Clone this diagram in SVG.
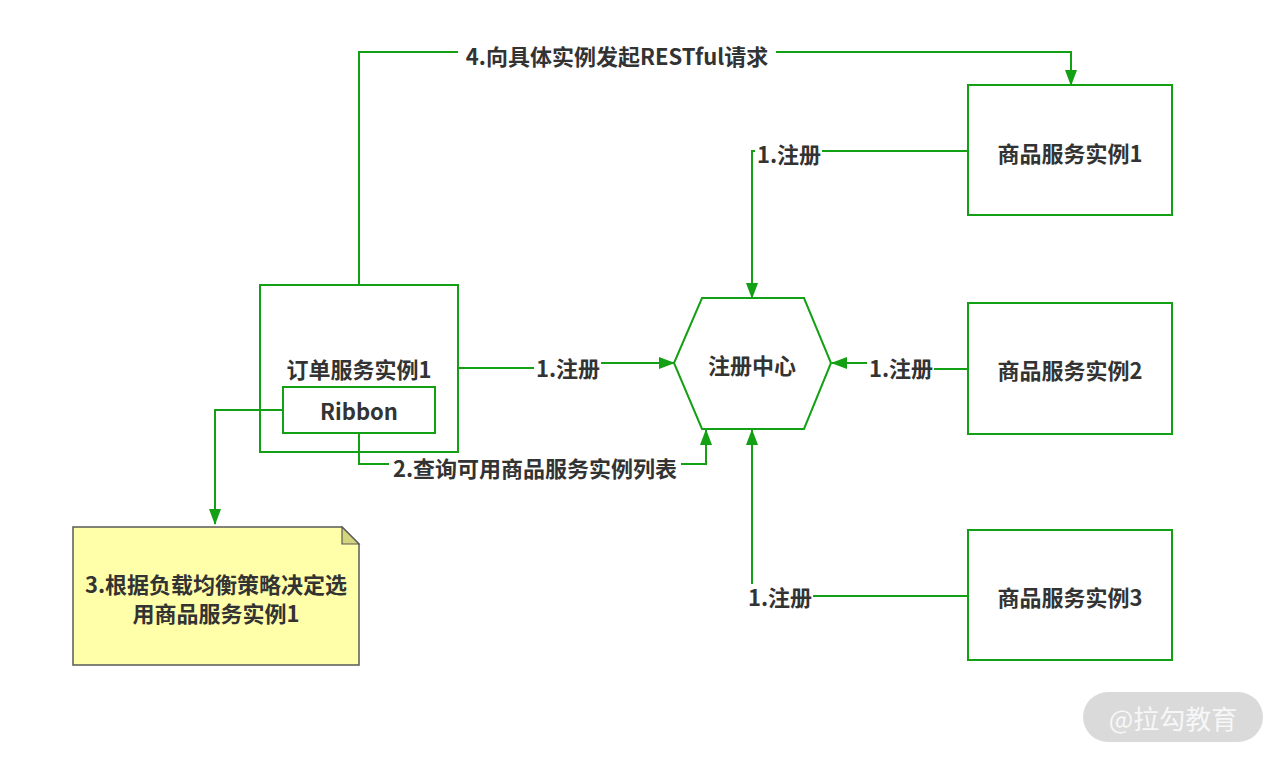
<svg xmlns="http://www.w3.org/2000/svg" width="1280" height="759" viewBox="0 0 1280 759">
<style>
.box{fill:#ffffff;stroke:#14a014;stroke-width:2}
.ln{fill:none;stroke:#14a014;stroke-width:2}
.t{font-family:"Noto Sans CJK SC","Liberation Sans",sans-serif;font-weight:bold;font-size:22px;fill:#333333;text-anchor:middle;dominant-baseline:central}
.lbg{fill:#ffffff}
</style>
<defs>
<marker id="arr" markerUnits="userSpaceOnUse" markerWidth="16" markerHeight="12" refX="15" refY="6" orient="auto">
<path d="M0,0 L16,6 L0,12 z" fill="#14a014"/>
</marker>
</defs>
<rect width="1280" height="759" fill="#ffffff"/>

<g id="order">
<rect class="box" x="260" y="285" width="198" height="167"/>
<text class="t" x="359" y="368">订单服务实例1</text>
</g>
<g id="ribbon">
<rect class="box" x="283" y="387" width="152" height="46"/>
<text class="t" x="359" y="410">Ribbon</text>
</g>
<g id="registry">
<polygon class="box" points="702,298 804,298 831,363 804,429 702,429 674,363"/>
<text class="t" x="752" y="364">注册中心</text>
</g>
<g id="product1">
<rect class="box" x="968" y="85" width="204" height="130"/>
<text class="t" x="1070" y="152">商品服务实例1</text>
</g>
<g id="product2">
<rect class="box" x="968" y="303" width="204" height="131"/>
<text class="t" x="1070" y="369">商品服务实例2</text>
</g>
<g id="product3">
<rect class="box" x="968" y="530" width="204" height="130"/>
<text class="t" x="1070" y="596">商品服务实例3</text>
</g>
<g id="note">
<path d="M73,527 L342,527 L359,544 L359,665 L73,665 z" fill="#ffffaa" stroke="#5a5a5a" stroke-width="1.5"/>
<path d="M342,527 L342,544 L359,544 z" fill="#d4d47e" stroke="#5a5a5a" stroke-width="1.2"/>
<text class="t" x="216" y="583">3.根据负载均衡策略决定选</text>
<text class="t" x="216" y="612">用商品服务实例1</text>
</g>

<g id="connectors">
<path class="ln" d="M359,285 V52 H1071 V85" marker-end="url(#arr)"/>
<rect class="lbg" x="458" y="40" width="318" height="26"/>
<text class="t" x="617" y="55">4.向具体实例发起RESTful请求</text>

<path class="ln" d="M968,151 H752 V298" marker-end="url(#arr)"/>
<rect class="lbg" x="755" y="141" width="67" height="24"/>
<text class="t" x="789" y="153">1.注册</text>

<path class="ln" d="M458,368 H565 V363 H674" marker-end="url(#arr)"/>
<rect class="lbg" x="534" y="355" width="67" height="24"/>
<text class="t" x="568" y="367">1.注册</text>

<path class="ln" d="M968,369 H900 V363 H832" marker-end="url(#arr)"/>
<rect class="lbg" x="867" y="355" width="67" height="24"/>
<text class="t" x="901" y="367">1.注册</text>

<path class="ln" d="M968,596 H752 V430" marker-end="url(#arr)"/>
<rect class="lbg" x="746" y="584" width="67" height="24"/>
<text class="t" x="780" y="596">1.注册</text>

<path class="ln" d="M359,433 V464 H706 V430" marker-end="url(#arr)"/>
<rect class="lbg" x="389" y="455" width="292" height="24"/>
<text class="t" x="535" y="467">2.查询可用商品服务实例列表</text>

<path class="ln" d="M283,410 H215 V524" marker-end="url(#arr)"/>
</g>

<g id="watermark">
<rect x="1083" y="692" width="180" height="50" rx="25" fill="#dadada"/>
<text x="1173" y="717" font-family="Noto Sans CJK SC, sans-serif" font-size="26" fill="#f7f7f7" text-anchor="middle" dominant-baseline="central">@拉勾教育</text>
</g>
</svg>
